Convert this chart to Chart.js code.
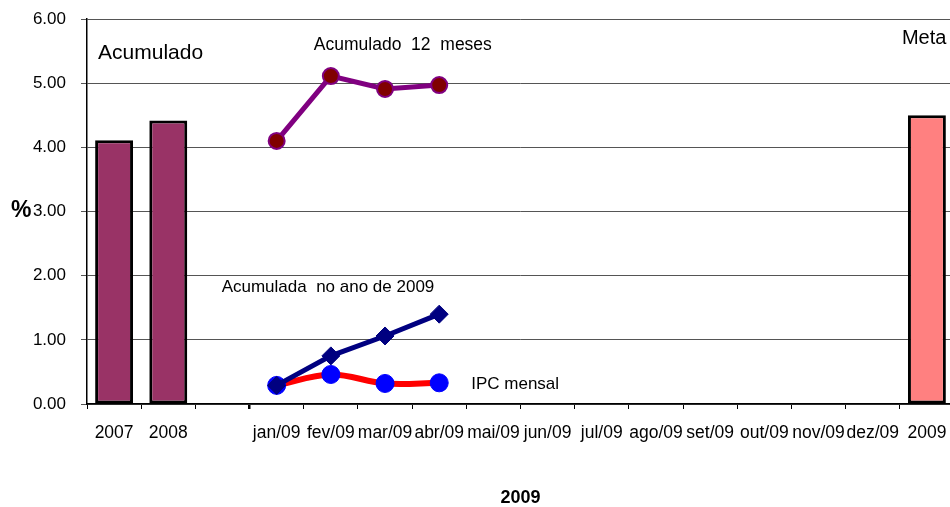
<!DOCTYPE html>
<html lang="pt">
<head>
<meta charset="UTF-8">
<title>IPC 2009</title>
<script src="https://cdn.jsdelivr.net/npm/chart.js"></script>
<style>
  html, body { margin: 0; padding: 0; background: #fff; overflow: hidden; }
  #wrap { width: 964px; height: 507px; }
</style>
</head>
<body>
<div id="wrap"><canvas id="ipc-chart" width="964" height="507"></canvas></div>
<script>
// categories on the x axis (third slot is an empty gap)
const categories = ['2007', '2008', '', 'jan/09', 'fev/09', 'mar/09', 'abr/09', 'mai/09', 'jun/09',
  'jul/09', 'ago/09', 'set/09', 'out/09', 'nov/09', 'dez/09', '2009'];

// annual bars: 2007, 2008 and the 2009 target
const acumuladoAnual = [4.11, 4.42, null, null, null, null, null, null, null, null, null, null, null, null, null, null];
const meta2009 = [null, null, null, null, null, null, null, null, null, null, null, null, null, null, null, 4.50];

// monthly series
const acum12Meses = [null, null, null, 4.10, 5.11, 4.91, 4.97, null, null, null, null, null, null, null, null, null];
const acumAno = [null, null, null, 0.29, 0.75, 1.06, 1.40, null, null, null, null, null, null, null, null, null];
const ipcMensal = [null, null, null, 0.29, 0.46, 0.32, 0.33, null, null, null, null, null, null, null, null, null];

const yTicks = [0, 1, 2, 3, 4, 5, 6];

const FONT = '"Liberation Sans", Arial, sans-serif';

// free text labels, anchored to category index / value
const notes = [
  { text: 'Acumulado', idx: 0, dx: -16, val: 5.47, size: 21 },
  { text: 'Meta', idx: 15, dx: -25, val: 5.70, size: 20 },
  { text: 'Acumulado  12  meses', idx: 4, dx: -17, val: 5.59, size: 17.5 },
  { text: 'Acumulada  no ano de 2009', idx: 3, dx: -55, val: 1.82, size: 17 },
  { text: 'IPC mensal', idx: 6, dx: 32, val: 0.31, size: 17 }
];

const notesPlugin = {
  id: 'notes',
  afterDraw(chart) {
    const ctx = chart.ctx;
    const x = chart.scales.x, y = chart.scales.y;
    ctx.save();
    ctx.fillStyle = '#000';
    ctx.textBaseline = 'middle';
    ctx.textAlign = 'left';
    notes.forEach(n => {
      ctx.font = n.size + 'px ' + FONT;
      ctx.fillText(n.text, x.getPixelForValue(n.idx) + n.dx, y.getPixelForValue(n.val));
    });
    // "%" axis label, horizontal, next to the 3.00 tick
    ctx.font = 'bold 23px ' + FONT;
    ctx.fillText('%', 11, y.getPixelForValue(3) - 1);
    ctx.restore();
  }
};

const barColors = categories.map((c, i) => i === 15 ? '#FF8080' : '#993366');

new Chart(document.getElementById('ipc-chart'), {
  data: {
    labels: categories,
    datasets: [
      {
        type: 'line',
        label: 'Acumulada no ano de 2009',
        data: acumAno,
        borderColor: '#000080',
        borderWidth: 5,
        pointStyle: 'rectRot',
        pointRadius: 9,
        pointBackgroundColor: '#000080',
        pointBorderColor: '#000080',
        pointBorderWidth: 1
      },
      {
        type: 'line',
        label: 'IPC mensal',
        data: ipcMensal,
        borderColor: '#FF0000',
        borderWidth: 6,
        tension: 0.35,
        pointRadius: 9,
        pointBackgroundColor: '#0000FF',
        pointBorderColor: '#0000FF',
        pointBorderWidth: 1
      },
      {
        type: 'line',
        label: 'Acumulado 12 meses',
        data: acum12Meses,
        borderColor: '#800080',
        borderWidth: 5,
        pointRadius: 8,
        pointBackgroundColor: '#800000',
        pointBorderColor: '#800080',
        pointBorderWidth: 2
      },
      {
        type: 'bar',
        label: 'Acumulado',
        data: acumuladoAnual.map((v, i) => v !== null ? v : meta2009[i]),
        backgroundColor: barColors,
        borderColor: '#000',
        borderWidth: 3,
        borderSkipped: false,
        barPercentage: 0.7,
        categoryPercentage: 1
      }
    ]
  },
  options: {
    responsive: false,
    animation: false,
    devicePixelRatio: 1,
    layout: { padding: { top: 19, left: 0, right: 0, bottom: 0 } },
    plugins: { legend: { display: false }, tooltip: { enabled: false } },
    scales: {
      x: {
        offset: true,
        grid: {
          offset: true,
          drawOnChartArea: false,
          drawTicks: true,
          tickLength: 5,
          color: '#000',
          lineWidth: ctx => ctx.index === 3 ? 2.5 : 1
        },
        border: { color: '#000', width: 1.5 },
        ticks: {
          autoSkip: false,
          maxRotation: 0,
          minRotation: 0,
          padding: 14,
          color: '#000',
          font: { family: FONT, size: 17.5 }
        },
        title: {
          display: true,
          text: '2009',
          color: '#000',
          font: { family: FONT, size: 18, weight: 'bold', lineHeight: 1 },
          padding: { top: 0, bottom: 0 }
        },
        afterFit(scale) { scale.height = 103; }
      },
      y: {
        min: 0,
        max: 6,
        afterBuildTicks(scale) { scale.ticks = yTicks.map(v => ({ value: v })); },
        grid: { color: '#555', lineWidth: 1, tickLength: 6 },
        border: { color: '#000', width: 1.5 },
        ticks: {
          padding: 15,
          color: '#000',
          font: { family: FONT, size: 17 },
          callback: v => v.toFixed(2)
        },
        afterFit(scale) {
          scale.width = 87;
          scale.paddingTop = 0;
          scale.paddingBottom = 0;
        }
      }
    }
  },
  plugins: [notesPlugin]
});
</script>
</body>
</html>
